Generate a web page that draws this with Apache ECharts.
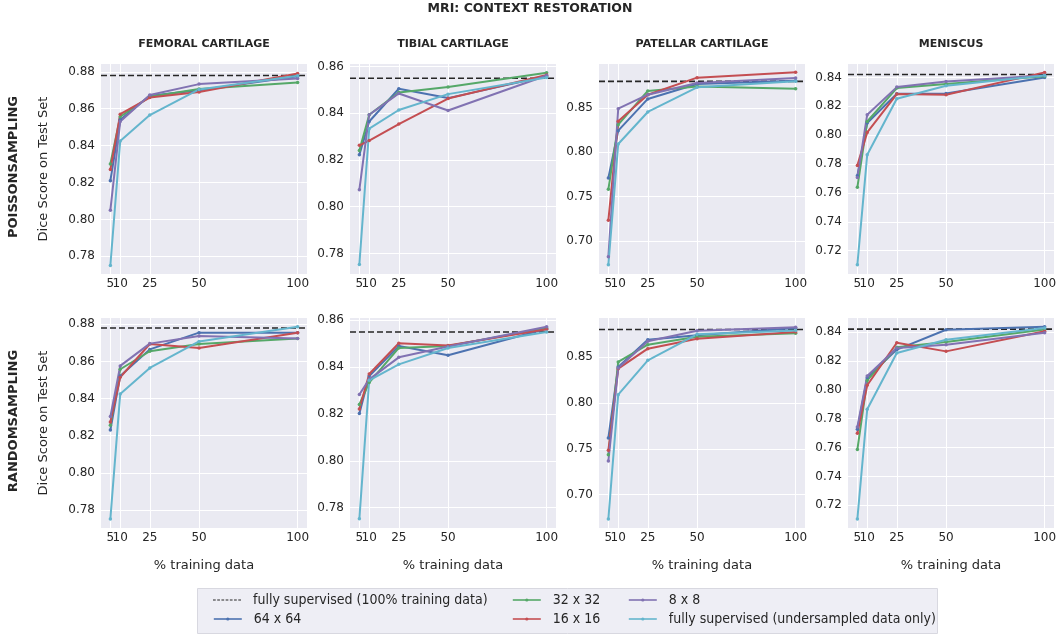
<!DOCTYPE html>
<html>
<head>
<meta charset="utf-8">
<script src="https://cdn.jsdelivr.net/npm/echarts@6/dist/echarts.min.js"></script>
<style>
html,body{margin:0;padding:0;background:#fff;}
#chart{width:1060px;height:636px;}
</style>
</head>
<body>
<div id="chart"></div>
<script>
// ---------------- data ----------------
const xPercent = [5, 10, 25, 50, 100];
const seriesNames = ['64 x 64', '32 x 32', '16 x 16', '8 x 8', 'fully supervised (undersampled data only)'];
const baselineName = 'fully supervised (100% training data)';
const structures = ['FEMORAL CARTILAGE', 'TIBIAL CARTILAGE', 'PATELLAR CARTILAGE', 'MENISCUS'];
const samplings = ['POISSONSAMPLING', 'RANDOMSAMPLING'];

// dashed baseline per structure (femoral, tibial, patellar, meniscus)
const baselinePoisson = [0.878, 0.855, 0.880, 0.842];
const baselineRandom  = [0.878, 0.855, 0.880, 0.842];

// each panel: rows in the order of seriesNames, values at xPercent
const poissonFemoral = [
  [0.821, 0.854, 0.867, 0.870, 0.8775],
  [0.830, 0.8556, 0.8665, 0.8706, 0.8742],
  [0.827, 0.857, 0.866, 0.869, 0.879],
  [0.805, 0.853, 0.8674, 0.8733, 0.8764],
  [0.775, 0.8425, 0.8565, 0.8704, 0.8778]
];
const poissonTibial = [
  [0.8223, 0.8365, 0.8505, 0.8465, 0.8559],
  [0.8241, 0.8394, 0.8489, 0.8513, 0.8574],
  [0.8263, 0.8283, 0.8354, 0.8463, 0.8564],
  [0.8073, 0.8394, 0.8485, 0.8412, 0.8562],
  [0.7753, 0.8334, 0.8414, 0.8482, 0.8553]
];
const poissonPatellar = [
  [0.771, 0.8244, 0.8602, 0.8771, 0.8808],
  [0.7583, 0.8312, 0.8692, 0.8741, 0.8718],
  [0.7233, 0.835, 0.865, 0.8842, 0.8902],
  [0.6823, 0.8492, 0.865, 0.8782, 0.8838],
  [0.6733, 0.8094, 0.8455, 0.8733, 0.8801]
];
const poissonMeniscus = [
  [0.772, 0.8084, 0.8287, 0.8289, 0.840],
  [0.7639, 0.8095, 0.8326, 0.8354, 0.8409],
  [0.7791, 0.8019, 0.8285, 0.828, 0.8435],
  [0.7708, 0.8142, 0.8333, 0.8372, 0.8414],
  [0.7103, 0.7865, 0.8252, 0.8342, 0.8414]
];
const randomFemoral = [
  [0.8231, 0.8522, 0.8665, 0.8755, 0.8755],
  [0.8256, 0.8558, 0.8655, 0.8694, 0.8723],
  [0.8274, 0.8515, 0.8694, 0.8673, 0.8755],
  [0.8303, 0.8576, 0.8696, 0.8737, 0.8723],
  [0.7752, 0.8425, 0.8565, 0.8708, 0.8787]
];
const randomTibial = [
  [0.8202, 0.8362, 0.849, 0.8451, 0.8564],
  [0.8241, 0.8334, 0.8482, 0.849, 0.8567],
  [0.8221, 0.8371, 0.8502, 0.8493, 0.8562],
  [0.8283, 0.8348, 0.8442, 0.8488, 0.8573],
  [0.7752, 0.8344, 0.8412, 0.8482, 0.855]
];
const randomPatellar = [
  [0.7618, 0.8391, 0.8689, 0.8736, 0.8816],
  [0.7436, 0.8446, 0.8634, 0.8721, 0.8758],
  [0.7483, 0.8373, 0.8591, 0.87, 0.8772],
  [0.7367, 0.838, 0.8671, 0.8787, 0.8823],
  [0.6735, 0.809, 0.8464, 0.8747, 0.879]
];
const randomMeniscus = [
  [0.7726, 0.8084, 0.8278, 0.8416, 0.8437],
  [0.7586, 0.8065, 0.8294, 0.8331, 0.8418],
  [0.7699, 0.8031, 0.8326, 0.8266, 0.8405],
  [0.7743, 0.8095, 0.8289, 0.8312, 0.8395],
  [0.7106, 0.7865, 0.8255, 0.8347, 0.8428]
];

// tick labels
const xTicksFirst = [5];               // drawn on its own axis so it can overlap "10"
const xTicksRest  = [10, 25, 50, 100];
const yTicksFemoral  = [0.78, 0.80, 0.82, 0.84, 0.86, 0.88];
const yTicksTibial   = [0.78, 0.80, 0.82, 0.84, 0.86];
const yTicksPatellar = [0.70, 0.75, 0.80, 0.85];
const yTicksMeniscus = [0.72, 0.74, 0.76, 0.78, 0.80, 0.82, 0.84];

// axis limits per panel [min, max]
const yLimitsPoisson = [[0.7704, 0.8842], [0.7712, 0.8611], [0.6628, 0.8996], [0.7039, 0.8493]];
const yLimitsRandom  = [[0.7703, 0.8834], [0.7713, 0.8610], [0.6637, 0.8925], [0.7043, 0.8497]];
const xLimits = [0.25, 104.75];

// ---------------- build ----------------
const panels = [
  [poissonFemoral, poissonTibial, poissonPatellar, poissonMeniscus],
  [randomFemoral, randomTibial, randomPatellar, randomMeniscus]
];
const baselines = [baselinePoisson, baselineRandom];
const yLimits = [yLimitsPoisson, yLimitsRandom];
const yTicks = [yTicksFemoral, yTicksTibial, yTicksPatellar, yTicksMeniscus];

const colors = ['#4C72B0', '#55A868', '#C44E52', '#8172B2', '#64B5CD'];
const textColor = '#262626';
const FONT = 'DejaVu Sans';
const LEGEND_FONT = "'Liberation Sans Narrow', 'DejaVu Sans Condensed', 'Liberation Sans', sans-serif";

const colLeft = [101, 350, 599, 848];
const rowTop = [64, 318];
const gw = 206, gh = 210;

const grid = [], xAxis = [], xAxisFirst = [], yAxis = [], series = [], graphic = [];

function makeX(gi, ticks) {
  return {
    type: 'value', gridIndex: gi, position: 'bottom', offset: 0,
    min: xLimits[0], max: xLimits[1],
    axisLine: { show: false },
    axisTick: { show: false, customValues: ticks },
    axisLabel: { customValues: ticks, fontSize: 12, color: textColor, margin: 4, fontFamily: FONT,
      showMinLabel: true, showMaxLabel: true, hideOverlap: false },
    splitLine: { show: true, lineStyle: { color: '#ffffff', width: 1 } }
  };
}

for (let r = 0; r < 2; r++) {
  for (let c = 0; c < 4; c++) {
    const gi = r * 4 + c;
    grid.push({
      left: colLeft[c], top: rowTop[r], width: gw, height: gh,
      show: true, backgroundColor: '#EAEAF2', borderWidth: 0,
      containLabel: false, outerBoundsMode: 'none'
    });
    xAxis.push(makeX(gi, xTicksRest));
    xAxisFirst.push(makeX(gi, xTicksFirst));
    yAxis.push({
      type: 'value', gridIndex: gi, min: yLimits[r][c][0], max: yLimits[r][c][1],
      axisLine: { show: false },
      axisTick: { show: false, customValues: yTicks[c] },
      axisLabel: { customValues: yTicks[c], fontSize: 12, color: textColor, margin: 6, fontFamily: FONT,
        showMinLabel: true, showMaxLabel: true, hideOverlap: false,
        formatter: v => Number(v).toFixed(2) },
      splitLine: { show: true, lineStyle: { color: '#ffffff', width: 1 } }
    });
    // baseline (dashed, spans full x range)
    series.push({
      type: 'line', name: baselineName, xAxisIndex: gi, yAxisIndex: gi,
      data: [[xLimits[0], baselines[r][c]], [xLimits[1], baselines[r][c]]],
      symbol: 'none', showSymbol: false, silent: true,
      itemStyle: { color: textColor },
      lineStyle: { color: textColor, type: [6, 3], width: 1.6 },
      emphasis: { disabled: true }
    });
    panels[r][c].forEach((vals, k) => {
      series.push({
        type: 'line', name: seriesNames[k], xAxisIndex: gi, yAxisIndex: gi,
        data: xPercent.map((x, j) => [x, vals[j]]),
        symbol: 'circle', symbolSize: 3.5, showSymbol: true,
        itemStyle: { color: colors[k] },
        lineStyle: { color: colors[k], width: 2 },
        emphasis: { disabled: true }
      });
    });
    if (r === 0) {
      graphic.push({
        type: 'text', x: colLeft[c] + gw / 2, y: 44,
        style: { text: structures[c], font: 'bold 11px ' + FONT, fill: textColor,
          align: 'center', verticalAlign: 'middle', textAlign: 'center', textVerticalAlign: 'middle' }
      });
    }
    if (r === 1) {
      graphic.push({
        type: 'text', x: colLeft[c] + gw / 2, y: 566,
        style: { text: '% training data', font: '13px ' + FONT, fill: textColor,
          align: 'center', verticalAlign: 'middle', textAlign: 'center', textVerticalAlign: 'middle' }
      });
    }
  }
  graphic.push({
    type: 'text', x: 44, y: rowTop[r] + gh / 2, rotation: Math.PI / 2,
    style: { text: 'Dice Score on Test Set', font: '13px ' + FONT, fill: textColor,
      align: 'center', verticalAlign: 'middle', textAlign: 'center', textVerticalAlign: 'middle' }
  });
  graphic.push({
    type: 'text', x: 14, y: rowTop[r] + gh / 2 - 2, rotation: Math.PI / 2,
    style: { text: samplings[r], font: 'bold 13px ' + FONT, fill: textColor,
      align: 'center', verticalAlign: 'middle', textAlign: 'center', textVerticalAlign: 'middle' }
  });
}

graphic.push({
  type: 'text', x: 530, y: 9,
  style: { text: 'MRI: CONTEXT RESTORATION', font: 'bold 12.5px ' + FONT, fill: textColor,
    align: 'center', verticalAlign: 'middle', textAlign: 'center', textVerticalAlign: 'middle' }
});
graphic.push({
  type: 'rect', z: -10, shape: { x: 197.5, y: 588.5, width: 740, height: 45 },
  style: { fill: '#EEEEF5', stroke: '#d8d8e0', lineWidth: 1 }
});

const dashIcon = 'path://M0,0h2.6v1h-2.6zM4,0h2.6v1h-2.6zM8,0h2.6v1h-2.6zM12,0h2.6v1h-2.6zM16,0h2.6v1h-2.6zM20,0h2.6v1h-2.6zM24,0h2.6v1h-2.6z';
function mkLegend(name, left, top, extra) {
  return Object.assign({
    data: [name], left: left, top: top, padding: 0, orient: 'horizontal',
    itemWidth: 28, itemHeight: 4, selectedMode: false, z: 10,
    textStyle: { fontSize: 14, color: textColor, fontFamily: LEGEND_FONT, padding: [0, 0, 0, 7] },
    lineStyle: { width: 1.6 }
  }, extra || {});
}
const legend = [
  mkLegend({ name: baselineName, icon: dashIcon }, 213, 593, { itemHeight: 1.4 }),
  mkLegend(seriesNames[0], 213, 612),
  mkLegend(seriesNames[1], 512, 593),
  mkLegend(seriesNames[2], 512, 612),
  mkLegend(seriesNames[3], 628, 593),
  mkLegend(seriesNames[4], 628, 612)
];

const chart = echarts.init(document.getElementById('chart'), null, { renderer: 'canvas' });
chart.setOption({
  animation: false,
  backgroundColor: '#ffffff',
  textStyle: { fontFamily: FONT },
  grid, xAxis: xAxis.concat(xAxisFirst), yAxis, series, legend, graphic
});
</script>
</body>
</html>
